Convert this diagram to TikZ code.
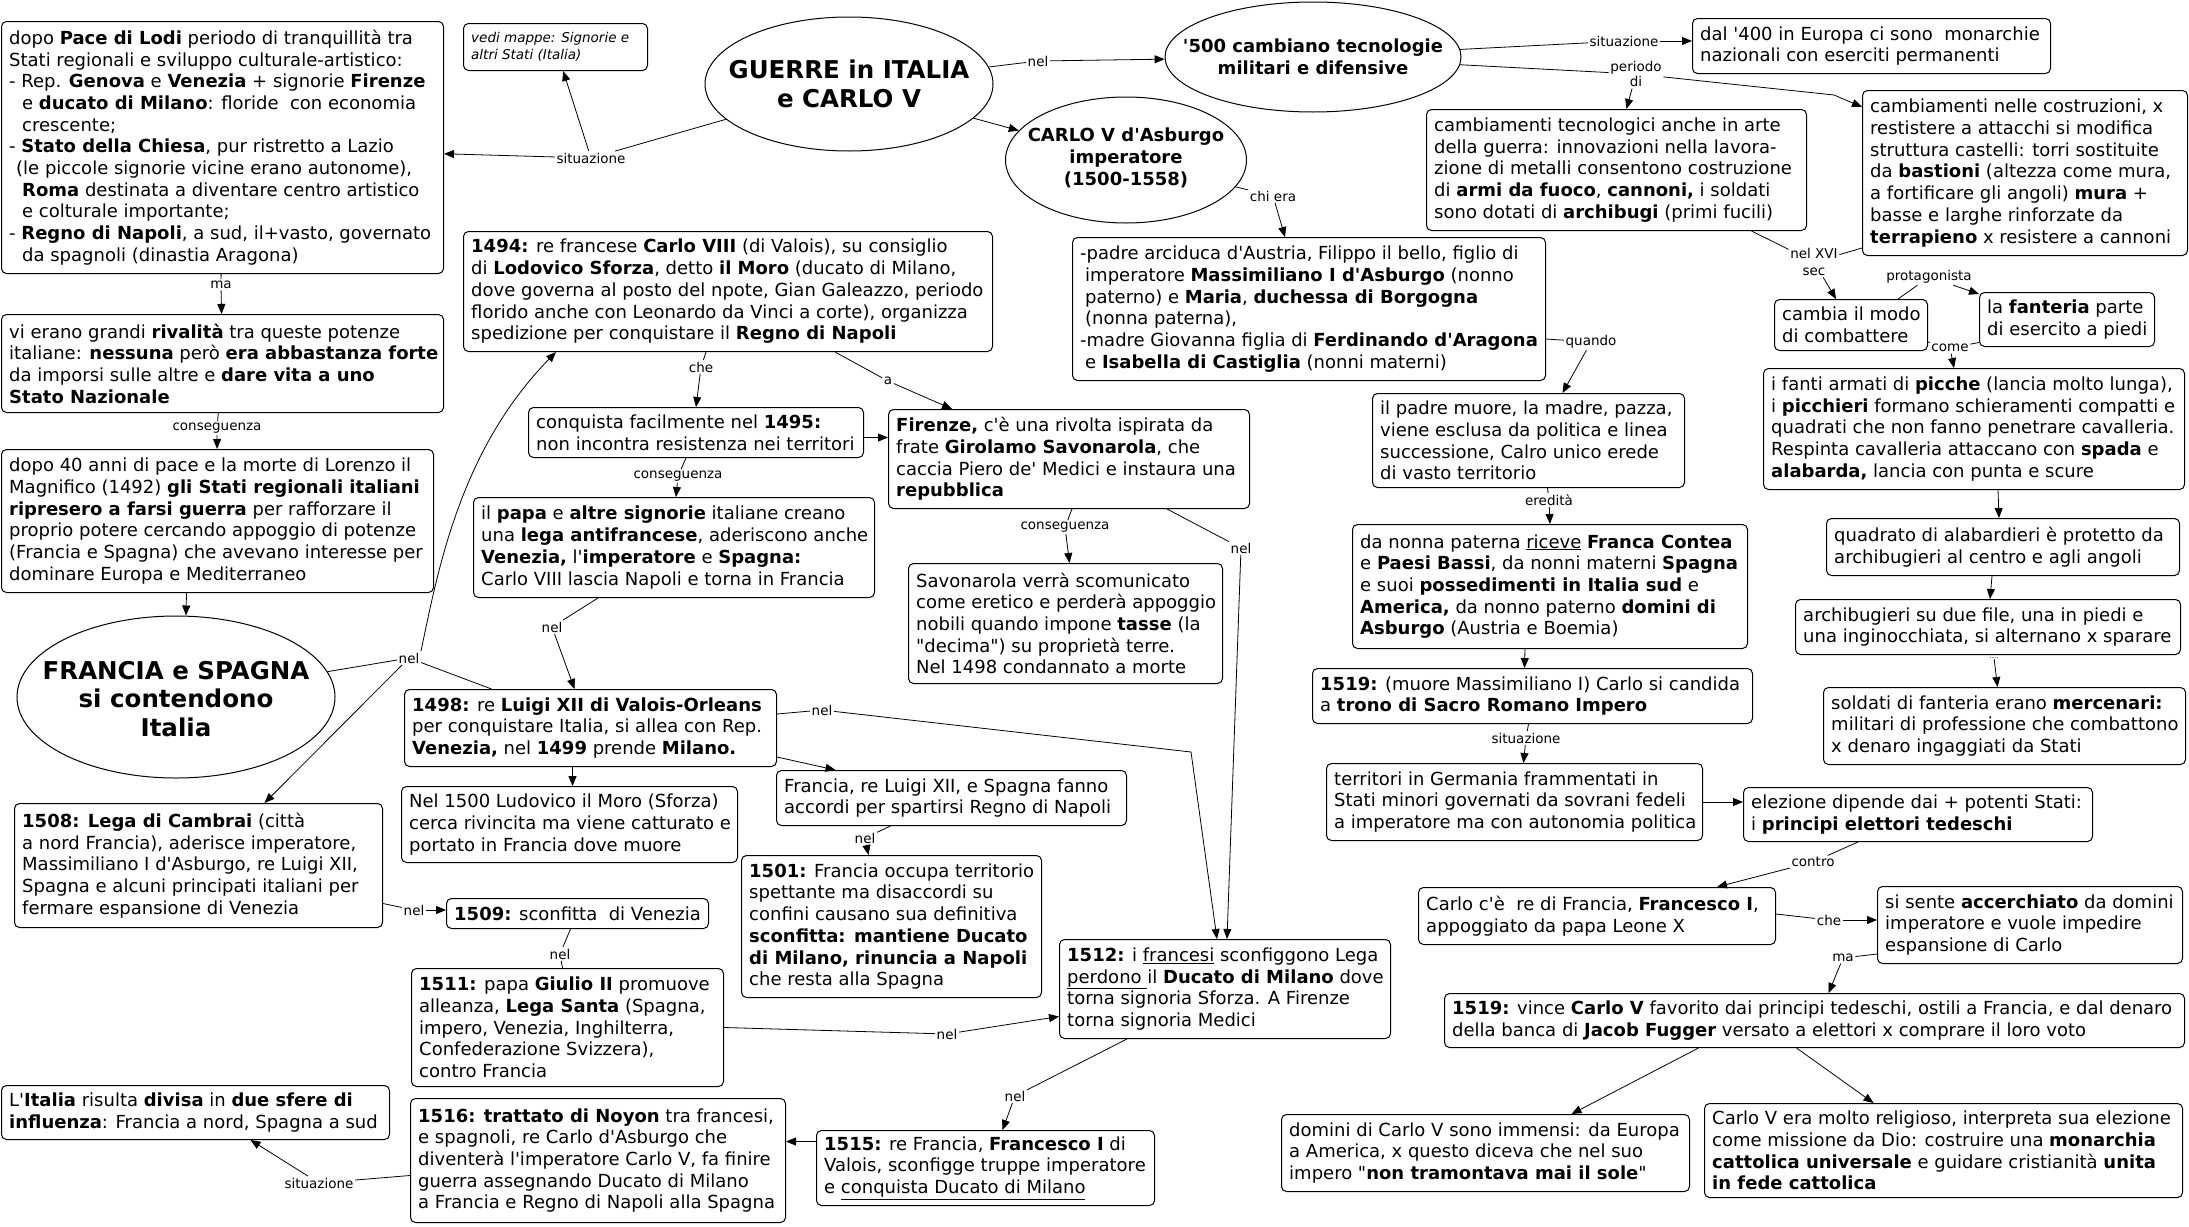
\documentclass[tikz,border=0pt]{standalone}
\usepackage{fontspec}
\setmainfont{DejaVu Sans}[Ligatures=TeXOff]
\usetikzlibrary{shapes.geometric,arrows.meta}
\tikzset{
 bx/.style={draw, rounded corners=5pt, line width=1pt, anchor=north west, inner sep=0pt},
 txt/.style={font=\fontsize{18}{21.7}\selectfont, align=left, inner sep=0pt, anchor=west},
 small/.style={font=\fontsize{13.5}{16.5}\selectfont\itshape},
 ell/.style={draw, ellipse, line width=1pt, inner sep=0pt},
 etxt/.style={align=center, inner sep=0pt, font=\bfseries\fontsize{18}{21.7}\selectfont},
 btxt/.style={align=center, inner sep=0pt, font=\bfseries\fontsize{24.5}{28.7}\selectfont},
 lbl/.style={font=\fontsize{13.5}{15}\selectfont, inner sep=1.5pt, align=center},
 con/.style={line width=0.8pt},
 arr/.style={con, -{Triangle[length=10pt,width=8pt]}},
}
\newcommand{\cbox}[7][]{\node[bx, minimum width=#5pt, minimum height=#6pt] (#2) at (#3,#4) {};
 \node[txt,#1] (#2-t) at ([xshift=8pt]#2.west) {#7};}
\begin{document}
\begin{tikzpicture}[x=1pt,y=-1pt]
\useasboundingbox (0,0) rectangle (2189,1226);
\fill[white] (0,0) rectangle (2189,1226);

% ---------- ellipses
\node[ell, minimum width=288pt, minimum height=134pt] (guerre) at (849,84) {};
\node[btxt] at (guerre.center) {GUERRE in ITALIA\\e CARLO V};
\node[ell, minimum width=296pt, minimum height=110pt] (c500) at (1313,57) {};
\node[etxt] at (c500.center) {'500 cambiano tecnologie\\militari e difensive};
\node[ell, minimum width=241pt, minimum height=126pt] (carlo) at (1126,160) {};
\node[etxt] at ([yshift=2pt]carlo.center) {CARLO V d'Asburgo\\imperatore\\(1500-1558)};
\node[ell, minimum width=318pt, minimum height=162pt] (francia) at (176,697) {};
\node[btxt] at ([yshift=-2pt]francia.center) {FRANCIA e SPAGNA\\si contendono\\Italia};

% ---------- boxes left
\cbox{lodi}{1}{21}{442}{252}{dopo \textbf{Pace di Lodi} periodo di tranquillità tra\\
Stati regionali e sviluppo culturale-artistico:\\
- Rep. \textbf{Genova} e \textbf{Venezia} + signorie \textbf{Firenze}\\
\hspace*{13pt}e \textbf{ducato di Milano}: floride~ con economia\\
\hspace*{13pt}crescente;\\
- \textbf{Stato della Chiesa}, pur ristretto a Lazio\\
\hspace*{7pt}(le piccole signorie vicine erano autonome),\\
\hspace*{13pt}\textbf{Roma} destinata a diventare centro artistico\\
\hspace*{13pt}e colturale importante;\\
- \textbf{Regno di Napoli}, a sud, il+vasto, governato\\
\hspace*{13pt}da spagnoli (dinastia Aragona)}
\cbox{rival}{1}{314}{442}{98}{vi erano grandi \textbf{rivalità} tra queste potenze\\
italiane: \textbf{nessuna} però \textbf{era abbastanza forte}\\
da imporsi sulle altre e \textbf{dare vita a uno}\\
\textbf{Stato Nazionale}}
\cbox{quaranta}{1}{449}{432}{143}{dopo 40 anni di pace e la morte di Lorenzo il\\
Magnifico (1492) \textbf{gli Stati regionali italiani}\\
\textbf{ripresero a farsi guerra} per rafforzare il\\
proprio potere cercando appoggio di potenze\\
(Francia e Spagna) che avevano interesse per\\
dominare Europa e Mediterraneo}
\cbox[small]{vedi}{463}{23}{184}{47}{vedi mappe: Signorie e\\altri Stati (Italia)}

% ---------- middle
\cbox{c1494}{463}{231}{529}{120}{\textbf{1494:} re francese \textbf{Carlo VIII} (di Valois), su consiglio\\
di \textbf{Lodovico Sforza}, detto \textbf{il Moro} (ducato di Milano,\\
dove governa al posto del npote, Gian Galeazzo, periodo\\
florido anche con Leonardo da Vinci a corte), organizza\\
spedizione per conquistare il \textbf{Regno di Napoli}}
\cbox{conquista}{528}{407}{335}{50}{conquista facilmente nel \textbf{1495:}\\
non incontra resistenza nei territori}
\cbox{papa}{473}{497}{401}{100}{il \textbf{papa} e \textbf{altre signorie} italiane creano\\
una \textbf{lega antifrancese}, aderiscono anche\\
\textbf{Venezia,} l'\textbf{imperatore} e \textbf{Spagna:}\\
Carlo VIII lascia Napoli e torna in Francia}
\cbox{firenze}{888}{409}{361}{99}{\textbf{Firenze,} c'è una rivolta ispirata da\\
frate \textbf{Girolamo Savonarola}, che\\
caccia Piero de' Medici e instaura una\\
\textbf{repubblica}}
\cbox{savon}{908}{563}{314}{120}{Savonarola verrà scomunicato\\
come eretico e perderà appoggio\\
nobili quando impone \textbf{tasse} (la\\
"decima") su proprietà terre.\\
Nel 1498 condannato a morte}
\cbox{c1498}{404}{689}{372}{77}{\textbf{1498:} re \textbf{Luigi XII di Valois-Orleans}\\
per conquistare Italia, si allea con Rep.\\
\textbf{Venezia,} nel \textbf{1499} prende \textbf{Milano.}}
\cbox{nel1500}{401}{786}{336}{76}{Nel 1500 Ludovico il Moro (Sforza)\\
cerca rivincita ma viene catturato e\\
portato in Francia dove muore}
\cbox{spartire}{776}{770}{350}{55}{Francia, re Luigi XII, e Spagna fanno\\
accordi per spartirsi Regno di Napoli}
\cbox{c1501}{741}{855}{300}{142}{\textbf{1501:} Francia occupa territorio\\
spettante ma disaccordi su\\
confini causano sua definitiva\\
\textbf{sconfitta: mantiene Ducato}\\
\textbf{di Milano, rinuncia a Napoli}\\
che resta alla Spagna}
\cbox{c1508}{14}{803}{368}{124}{\textbf{1508: Lega di Cambrai} (città\\
a nord Francia), aderisce imperatore,\\
Massimiliano I d'Asburgo, re Luigi XII,\\
Spagna e alcuni principati italiani per\\
fermare espansione di Venezia}
\cbox{c1509}{446}{898}{262}{30}{\textbf{1509:} sconfitta~ di Venezia}
\cbox{c1511}{411}{968}{312}{118}{\textbf{1511:} papa \textbf{Giulio II} promuove\\
alleanza, \textbf{Lega Santa} (Spagna,\\
impero, Venezia, Inghilterra,\\
Confederazione Svizzera),\\
contro Francia}
\cbox{c1512}{1059}{939}{331}{99}{\textbf{1512:} i \underline{francesi} sconfiggono Lega\\
\underline{perdono\ }il \textbf{Ducato di Milano} dove\\
torna signoria Sforza. A Firenze\\
torna signoria Medici}
\cbox{c1515}{816}{1130}{338}{75}{\textbf{1515:} re Francia, \textbf{Francesco I} di\\
Valois, sconfigge truppe imperatore\\
e \underline{conquista Ducato di Milano}}
\cbox{c1516}{410}{1098}{375}{124}{\textbf{1516: trattato di Noyon} tra francesi,\\
e spagnoli, re Carlo d'Asburgo che\\
diventerà l'imperatore Carlo V, fa finire\\
guerra assegnando Ducato di Milano\\
a Francia e Regno di Napoli alla Spagna}
\cbox{italia}{1}{1085}{388}{54}{L'\textbf{Italia} risulta \textbf{divisa} in \textbf{due sfere di}\\
\textbf{influenza}: Francia a nord, Spagna a sud}

% ---------- right
\cbox{padre}{1072}{237}{473}{143}{-padre arciduca d'Austria, Filippo il bello, figlio di\\
\hspace*{5pt}imperatore \textbf{Massimiliano I d'Asburgo} (nonno\\
\hspace*{5pt}paterno) e \textbf{Maria}, \textbf{duchessa di Borgogna}\\
\hspace*{5pt}(nonna paterna),\\
-madre Giovanna figlia di \textbf{Ferdinando d'Aragona}\\
\hspace*{5pt}e \textbf{Isabella di Castiglia} (nonni materni)}
\cbox{muore}{1372}{393}{312}{94}{il padre muore, la madre, pazza,\\
viene esclusa da politica e linea\\
successione, Calro unico erede\\
di vasto territorio}
\cbox{nonna}{1352}{524}{395}{124}{da nonna paterna \underline{riceve} \textbf{Franca Contea}\\
e \textbf{Paesi Bassi}, da nonni materni \textbf{Spagna}\\
e suoi \textbf{possedimenti in Italia sud} e\\
\textbf{America,} da nonno paterno \textbf{domini di}\\
\textbf{Asburgo} (Austria e Boemia)}
\cbox{c1519a}{1312}{668}{440}{55}{\textbf{1519:} (muore Massimiliano I) Carlo si candida\\
a \textbf{trono di Sacro Romano Impero}}
\cbox{territori}{1326}{763}{376}{77}{territori in Germania frammentati in\\
Stati minori governati da sovrani fedeli\\
a imperatore ma con autonomia politica}
\cbox{elezione}{1743}{787}{349}{54}{elezione dipende dai + potenti Stati:\\
i \textbf{principi elettori tedeschi}}
\cbox{carloce}{1418}{887}{357}{57}{Carlo c'è~ re di Francia, \textbf{Francesco I},\\
appoggiato da papa Leone X}
\cbox{accerch}{1877}{886}{305}{77}{si sente \textbf{accerchiato} da domini\\
imperatore e vuole impedire\\
espansione di Carlo}
\cbox{c1519b}{1444}{993}{740}{54}{\textbf{1519:} vince \textbf{Carlo V} favorito dai principi tedeschi, ostili a Francia, e dal denaro\\
della banca di \textbf{Jacob Fugger} versato a elettori x comprare il loro voto}
\cbox{domini}{1281}{1114}{408}{77}{domini di Carlo V sono immensi: da Europa\\
a America, x questo diceva che nel suo\\
impero "\textbf{non tramontava mai il sole}"}
\cbox{religioso}{1704}{1103}{478}{94}{Carlo V era molto religioso, interpreta sua elezione\\
come missione da Dio: costruire una \textbf{monarchia}\\
\textbf{cattolica universale} e guidare cristianità \textbf{unita}\\
\textbf{in fede cattolica}}
\cbox{dal400}{1692}{18}{358}{55}{dal '400 in Europa ci sono~ monarchie\\
nazionali con eserciti permanenti}
\cbox{tecno}{1426}{109}{380}{121}{cambiamenti tecnologici anche in arte\\
della guerra: innovazioni nella lavora-\\
zione di metalli consentono costruzione\\
di \textbf{armi da fuoco}, \textbf{cannoni,} i soldati\\
sono dotati di \textbf{archibugi} (primi fucili)}
\cbox{costr}{1862}{90}{325}{165}{cambiamenti nelle costruzioni, x\\
restistere a attacchi si modifica\\
struttura castelli: torri sostituite\\
da \textbf{bastioni} (altezza come mura,\\
a fortificare gli angoli) \textbf{mura} +\\
basse e larghe rinforzate da\\
\textbf{terrapieno} x resistere a cannoni}
\cbox{cambia}{1774}{299}{153}{51}{cambia il modo\\di combattere}
\cbox{fanteria}{1979}{292}{175}{54}{la \textbf{fanteria} parte\\di esercito a piedi}
\cbox{fanti}{1763}{368}{421}{121}{i fanti armati di \textbf{picche} (lancia molto lunga),\\
i \textbf{picchieri} formano schieramenti compatti e\\
quadrati che non fanno penetrare cavalleria.\\
Respinta cavalleria attaccano con \textbf{spada} e\\
\textbf{alabarda,} lancia con punta e scure}
\cbox{quadrato}{1826}{518}{353}{57}{quadrato di alabardieri è protetto da\\
archibugieri al centro e agli angoli}
\cbox{archi}{1795}{599}{385}{55}{archibugieri su due file, una in piedi e\\
una inginocchiata, si alternano x sparare}
\cbox{soldati}{1823}{687}{362}{77}{soldati di fanteria erano \textbf{mercenari:}\\
militari di professione che combattono\\
x denaro ingaggiati da Stati}

% ---------- labels
\node[lbl] (Lsit1) at (591,158) {situazione};
\node[lbl] (Lma1) at (221,285) {ma};
\node[lbl] (Lcons1) at (217,428) {conseguenza};
\node[lbl] (Lnel1) at (1038,61) {nel};
\node[lbl] (Lchi) at (1273,196) {chi era};
\node[lbl] (Lquando) at (1591,342) {quando};
\node[lbl] (Lered) at (1549,500) {eredità};
\node[lbl] (Lsit2) at (1526,738) {situazione};
\node[lbl] (Lcontro) at (1813,862) {contro};
\node[lbl] (Lche2) at (1829,920) {che};
\node[lbl] (Lma2) at (1843,958) {ma};
\node[lbl] (Lsit3) at (1624,41) {situazione};
\node[lbl, font=\fontsize{13.5}{15}\selectfont] (Lper) at (1636,74) {periodo\\di};
\node[lbl, font=\fontsize{13.5}{17}\selectfont] (Lxvi) at (1814,262) {nel XVI\\sec};
\node[lbl] (Lprot) at (1929,277) {protagonista};
\node[lbl] (Lcome) at (1950,348) {come};
\node[lbl, font=\fontsize{7}{8}\selectfont, inner sep=0.5pt] (Ldots) at (1994,658) {....};
\node[lbl] (Lche1) at (701,367) {che};
\node[lbl] (La) at (888,381) {a};
\node[lbl] (Lcons2) at (678,476) {conseguenza};
\node[lbl] (Lcons3) at (1065,527) {conseguenza};
\node[lbl] (Lnel2) at (1241,548) {nel};
\node[lbl] (Lnel3) at (409,658) {nel};
\node[lbl] (Lnel4) at (552,627) {nel};
\node[lbl] (Lnel5) at (822,710) {nel};
\node[lbl] (Lnel6) at (865,838) {nel};
\node[lbl] (Lnel7) at (414,910) {nel};
\node[lbl] (Lnel8) at (560,954) {nel};
\node[lbl] (Lnel9) at (947,1034) {nel};
\node[lbl] (Lnel10) at (1015,1096) {nel};
\node[lbl] (Lsit4) at (319,1183) {situazione};

\coordinate (b5) at (1191,752);
\coordinate (bper) at (1834,95);

% ---------- connectors
\draw[con] (guerre) -- (Lsit1);
\draw[arr] (Lsit1) -- (lodi);
\draw[arr] (Lsit1) -- (vedi);
\draw[con] (lodi) -- (Lma1);
\draw[arr] (Lma1) -- (rival);
\draw[con] (rival) -- (Lcons1);
\draw[arr] (Lcons1) -- (quaranta);
\draw[arr] ([xshift=-31pt]quaranta.south) -- ([xshift=10pt]francia.north);
\draw[con] (guerre) -- (Lnel1);
\draw[arr] (Lnel1) -- (c500);
\draw[arr] (guerre) -- (carlo);
\draw[con] (carlo) -- (Lchi);
\draw[arr] (Lchi) -- ([xshift=-24pt]padre.north);
\draw[con] ([yshift=-30pt]padre.east) -- (Lquando);
\draw[arr] (Lquando) -- ([xshift=34pt]muore.north);
\draw[con] ([xshift=19pt]muore.south) -- (Lered);
\draw[arr] (Lered) -- (nonna.north);
\draw[arr] ([xshift=-25pt]nonna.south) -- ([xshift=-8pt]c1519a.north);
\draw[con] ([xshift=-4pt]c1519a.south) -- (Lsit2);
\draw[arr] (Lsit2) -- ([xshift=9pt]territori.north);
\draw[arr] (territori.east) -- (elezione.west |- territori.east);
\draw[con] ([xshift=-60pt]elezione.south) -- (Lcontro);
\draw[arr] (Lcontro) -- ([xshift=120pt]carloce.north);
\draw[con] ([yshift=2pt]carloce.east) -- (Lche2);
\draw[arr] (Lche2) -- (accerch.west |- Lche2);
\draw[con] ([yshift=-29pt]accerch.west) -- (Lma2);
\draw[arr] (Lma2) -- ([xshift=14pt]c1519b.north);
\draw[arr] ([xshift=-116pt]c1519b.south) -- ([xshift=86pt]domini.north);
\draw[arr] ([xshift=-18pt]c1519b.south) -- ([xshift=-70pt]religioso.north);
\draw[con] (c500) -- (Lsit3);
\draw[arr] (Lsit3) -- (dal400.west |- Lsit3);
\draw[con] (c500) -- (Lper);
\draw[arr] (Lper) -- ([xshift=10pt]tecno.north);
\draw[arr] (Lper) -- (bper) -- ([yshift=-17pt]costr.north west);
\draw[con] ([xshift=135pt]tecno.south) -- (Lxvi);
\draw[con] ([yshift=8pt]costr.south west) -- (Lxvi);
\draw[arr] (Lxvi) -- ([xshift=-15pt]cambia.north);
\draw[con] ([xshift=47pt]cambia.north) -- (Lprot);
\draw[arr] (Lprot) -- ([yshift=-2pt]fanteria.north west);
\draw[con] ([yshift=-17pt]cambia.east) -- (Lcome);
\draw[con] ([yshift=-23pt]fanteria.west) -- (Lcome);
\draw[arr] (Lcome) -- ([xshift=-20pt]fanti.north);
\draw[arr] ([xshift=24pt]fanti.south) -- ([xshift=-4pt]quadrato.north);
\draw[arr] ([xshift=-11pt]quadrato.south) -- ([xshift=2pt]archi.north);
\draw[arr] (Ldots) -- ([xshift=-7pt]soldati.north);
\draw[con] ([xshift=-22pt]c1494.south) -- (Lche1);
\draw[arr] (Lche1) -- (conquista.north);
\draw[con] ([xshift=107pt]c1494.south) -- (La);
\draw[arr] (La) -- ([xshift=-117pt]firenze.north);
\draw[con] ([xshift=-10pt]conquista.south) -- (Lcons2);
\draw[arr] (Lcons2) -- ([xshift=2pt]papa.north);
\draw[arr] ([yshift=-5pt]conquista.east) -- ([yshift=21.5pt]firenze.west);
\draw[con] ([xshift=3pt]firenze.south) -- (Lcons3);
\draw[arr] (Lcons3) -- ([xshift=4pt]savon.north);
\draw[con] ([xshift=98pt]firenze.south) -- (Lnel2);
\draw[arr] (Lnel2) -- ([xshift=2pt]c1512.north);
\draw[con] (francia) -- (Lnel3);
\draw[arr] (Lnel3.north east) .. controls (438,570) and (460,450) .. ([xshift=-172pt]c1494.south);
\draw[arr] (Lnel3) -- ([xshift=66pt]c1508.north);
\draw[con] (Lnel3) -- ([xshift=-99pt]c1498.north);
\draw[con] ([xshift=-76pt]papa.south) -- (Lnel4);
\draw[arr] (Lnel4) -- ([xshift=-16pt]c1498.north);
\draw[con] ([yshift=14pt]c1498.east) -- (Lnel5);
\draw[arr] (Lnel5) -- (b5) -- ([xshift=-8pt]c1512.north);
\draw[arr] ([xshift=-18pt]c1498.south) -- ([xshift=3pt]nel1500.north);
\draw[arr] ([yshift=10pt]c1498.south east) -- ([xshift=-116pt]spartire.north);
\draw[con] ([xshift=-61pt]spartire.south) -- (Lnel6);
\draw[arr] (Lnel6) -- ([xshift=-23pt]c1501.north);
\draw[con] ([yshift=-38pt]c1508.east) -- (Lnel7);
\draw[arr] (Lnel7) -- (c1509.west |- Lnel7);
\draw[con] ([xshift=-7pt]c1509.south) -- (Lnel8);
\draw[con] (Lnel8) -- ([xshift=-5pt]c1511.north);
\draw[con] (c1511.east) -- (Lnel9);
\draw[arr] (Lnel9) -- ([yshift=-27.5pt]c1512.west);
\draw[con] ([xshift=-98pt]c1512.south) -- (Lnel10);
\draw[arr] (Lnel10) -- ([xshift=17pt]c1515.north);
\draw[arr] ([yshift=26.5pt]c1515.west) -- ([yshift=19pt]c1516.east);
\draw[con] ([yshift=-15pt]c1516.west) -- (Lsit4);
\draw[arr] (Lsit4) -- ([xshift=55pt]italia.south);
\end{tikzpicture}
\end{document}
